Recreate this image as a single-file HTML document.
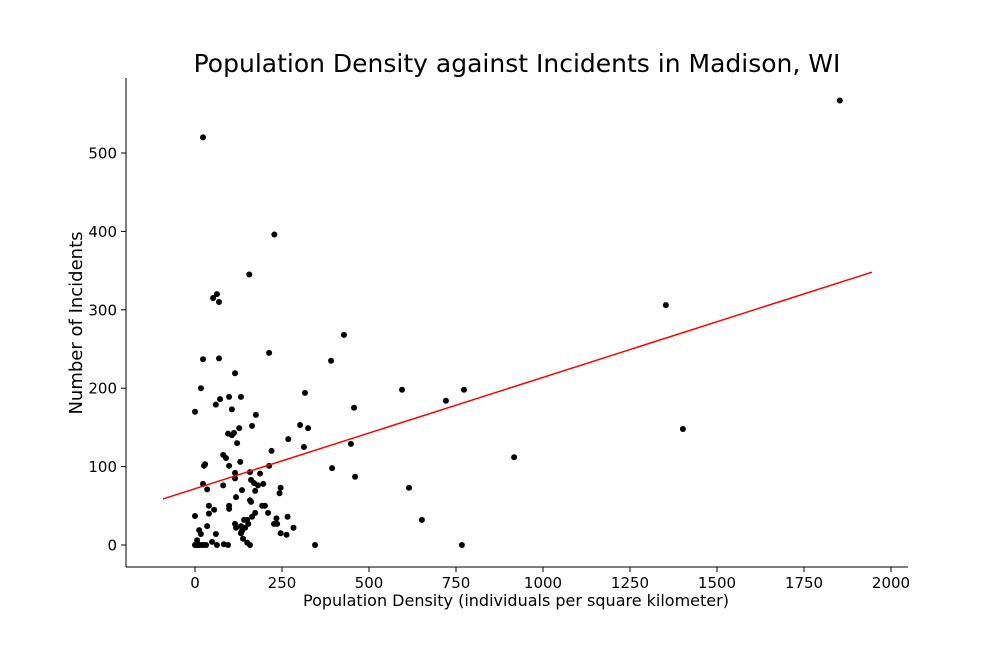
<!DOCTYPE html>
<html><head><meta charset="utf-8"><style>
html,body{margin:0;padding:0;background:#fff;}
svg{display:block;font-family:"DejaVu Sans","Liberation Sans",sans-serif;}
</style></head><body>
<svg id="chart" width="1008" height="648">
<text x="517" y="72" text-anchor="middle" font-size="25">Population Density against Incidents in Madison, WI</text>
<text x="516" y="606" text-anchor="middle" font-size="16">Population Density (individuals per square kilometer)</text>
<text transform="translate(82,323) rotate(-90)" text-anchor="middle" font-size="18">Number of Incidents</text>
<g id="xticks"></g>
<g id="yticks"></g>
<g id="points"></g>
<g id="fit"></g>
<line x1="126" y1="78" x2="126" y2="567" stroke="#000" stroke-width="1"/>
<line x1="126" y1="567" x2="908" y2="567" stroke="#000" stroke-width="1"/>
</svg>
<script>
const xTicks = [0,250,500,750,1000,1250,1500,1750,2000];
const yTicks = [0,100,200,300,400,500];
const densities = [23,1853,228,156,63,52,69,428,23,69,213,391,115,17,316,72,98,132,60,106,0,457,175,302,325,164,127,268,95,106,112,121,220,313,448,81,89,130,26,29,98,213,394,460,158,115,115,187,161,170,181,196,23,81,35,246,243,135,173,118,158,161,40,98,98,55,193,201,0,40,210,173,164,150,141,153,132,234,266,227,236,283,115,118,144,135,132,35,12,17,60,246,263,138,49,6,150,158,0,3,6,9,14,20,26,32,63,83,95,345,595,773,721,917,615,652,767,1353,1402];
const incidents = [520,567,396,345,320,315,310,268,237,238,245,235,219,200,194,186,189,189,179,173,170,175,166,153,149,152,149,135,142,140,143,130,120,125,129,115,111,106,101,103,101,101,98,87,93,92,85,91,83,79,76,78,78,76,71,73,66,70,69,61,57,55,50,50,46,45,50,50,37,40,41,41,36,32,32,27,24,34,36,27,27,22,27,22,22,18,15,24,19,14,14,15,13,8,4,6,3,0,0,0,0,0,0,0,0,0,0,1,0,0,198,198,184,112,73,32,0,306,148];
const fitCoef = [71.8, 0.142];
const fitRange = [-92, 1945];

const ns='http://www.w3.org/2000/svg';
const X0=195, XS=0.348, Y0=545, YS=0.784;
const sx=v=>X0+v*XS, sy=v=>Y0-v*YS;
function mk(tag,attrs,parent){const e=document.createElementNS(ns,tag);for(const k in attrs)e.setAttribute(k,attrs[k]);parent.appendChild(e);return e;}
const gx=document.getElementById('xticks'), gy=document.getElementById('yticks');
xTicks.forEach(t=>{
  const l=mk('line',{x1:sx(t),x2:sx(t),y1:567,y2:572,stroke:'#000'},gx);
  
  
  const tx=mk('text',{x:sx(t),y:588,'text-anchor':'middle','font-size':'15'},gx);
  tx.textContent=t;
  
  
});
yTicks.forEach(t=>{
  const l=mk('line',{x1:121,x2:126,y1:sy(t),y2:sy(t),stroke:'#000'},gy);
  
  
  const tx=mk('text',{x:117,y:sy(t)+5.5,'text-anchor':'end','font-size':'15'},gy);
  tx.textContent=t;
  
  
});
const gp=document.getElementById('points');
densities.forEach((d,i)=>{
  const c=mk('circle',{cx:sx(d),cy:sy(incidents[i]),r:3,fill:'#000'},gp);
  
  
});
const gf=document.getElementById('fit');
const fl=mk('line',{x1:sx(fitRange[0]),y1:sy(fitCoef[0]+fitCoef[1]*fitRange[0]),x2:sx(fitRange[1]),y2:sy(fitCoef[0]+fitCoef[1]*fitRange[1]),stroke:'#ff0000','stroke-width':1.5},gf);


</script>
</body></html>
